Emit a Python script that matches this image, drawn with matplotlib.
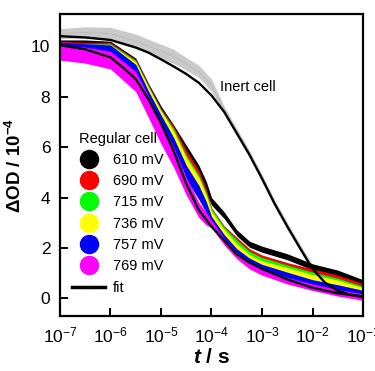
import numpy as np
import matplotlib
matplotlib.use('Agg')
import matplotlib.pyplot as plt
from matplotlib.lines import Line2D

plt.rcParams['font.family'] = ['Liberation Sans', 'DejaVu Sans']
plt.rcParams['mathtext.fontset'] = 'custom'
plt.rcParams['mathtext.rm'] = 'Liberation Sans'
plt.rcParams['mathtext.it'] = 'Liberation Sans:italic'
plt.rcParams['mathtext.bf'] = 'Liberation Sans:bold'
plt.rcParams['mathtext.bfit'] = 'Liberation Sans:italic:bold'

# ---------------- data (log10 of time in s, dOD in 1e-4) ----------------
reg_logt = [-7, -6.5, -6, -5.5, -5.25, -5, -4.75, -4.5, -4.25, -4.1, -4, -3.75,
            -3.5, -3.25, -3, -2.5, -2, -1.5, -1]
reg_labels = ['610 mV', '690 mV', '715 mV', '736 mV', '757 mV', '769 mV']
reg_colors = ['#000000', '#ff0000', '#00ff00', '#ffff00', '#0000ff', '#ff00ff']
reg_610 = [10.0, 10.0, 9.95, 9.25, 8.25, 7.35, 6.6, 5.8, 5.0, 4.4, 3.85, 3.3,
           2.6, 2.15, 1.95, 1.65, 1.25, 1.0, 0.62]
reg_690 = [9.95, 9.9, 9.9, 9.2, 8.2, 7.25, 6.55, 5.6, 4.8, 4.1, 3.45, 2.75,
           2.3, 1.85, 1.6, 1.3, 1.05, 0.8, 0.47]
reg_715 = [9.85, 9.85, 9.85, 9.15, 8.15, 7.2, 6.45, 5.4, 4.6, 3.95, 3.4, 2.7,
           2.2, 1.75, 1.5, 1.2, 0.92, 0.68, 0.36]
reg_736 = [9.7, 9.75, 9.8, 9.1, 8.1, 7.15, 6.35, 5.3, 4.5, 3.85, 3.3, 2.6,
           2.05, 1.62, 1.37, 1.1, 0.82, 0.6, 0.3]
reg_757 = [9.9, 9.85, 9.8, 9.0, 7.95, 7.0, 6.1, 5.0, 4.2, 3.6, 3.1, 2.4,
           1.85, 1.48, 1.23, 0.92, 0.62, 0.42, 0.2]
reg_769 = [9.75, 9.65, 9.45, 8.6, 7.6, 6.55, 5.6, 4.45, 3.5, 3.15, 2.95, 2.25,
           1.7, 1.3, 1.05, 0.7, 0.44, 0.22, 0.05]
reg_noise = [0.25, 0.25, 0.25, 0.28, 0.28, 0.28, 0.28, 0.28, 0.28, 0.22, 0.15, 0.13,
             0.12, 0.12, 0.12, 0.12, 0.12, 0.12, 0.12]
mag_noise = [0.3, 0.32, 0.35, 0.4, 0.42, 0.42, 0.4, 0.35, 0.3, 0.25, 0.15, 0.13,
             0.13, 0.13, 0.13, 0.13, 0.13, 0.13, 0.13]

fit_logt = [-7, -6.5, -6, -5.75, -5.5, -5.25, -5, -4.75, -4.5, -4.25, -4, -3.75,
            -3.5, -3.25, -3, -2.5, -2, -1.5, -1]
fit_reg = [10.04, 9.88, 9.56, 9.15, 8.7, 7.9, 6.95, 5.85, 4.55, 3.5, 2.85, 2.3,
           1.75, 1.42, 1.17, 0.75, 0.42, 0.2, 0.08]

inert_logt = [-7, -6.5, -6, -5.5, -5.25, -5, -4.75, -4.5, -4.25, -4, -3.75, -3.5,
              -3.25, -3, -2.75, -2.5, -2.25, -2, -1.75, -1.5, -1.25, -1]
inert_data = [10.5, 10.55, 10.5, 10.2, 10.0, 9.8, 9.6, 9.3, 9.0, 8.45, 7.5, 6.65,
              5.78, 4.82, 3.82, 2.92, 2.07, 1.25, 0.7, 0.38, 0.26, 0.2]
inert_noise = [0.2, 0.22, 0.25, 0.28, 0.28, 0.28, 0.28, 0.25, 0.25, 0.25, 0.12, 0.09,
               0.09, 0.09, 0.09, 0.09, 0.09, 0.09, 0.09, 0.08, 0.08, 0.08]
inert_fit = [10.4, 10.35, 10.25, 9.95, 9.75, 9.48, 9.2, 8.9, 8.55, 8.05, 7.4, 6.55,
             5.7, 4.75, 3.75, 2.85, 2.0, 1.17, 0.62, 0.3, 0.14, 0.05]

x_ticks_exp = [-7, -6, -5, -4, -3, -2, -1]
y_ticks = [0, 2, 4, 6, 8, 10]

# ---------------- figure ----------------
fig = plt.figure(figsize=(3.75, 3.71), dpi=100)
ax = fig.add_axes([60/375, 1-316/371, 303/375, 302/371])
ax.set_xscale('log')

t_in = 10.0 ** np.array(inert_logt)
yi = np.array(inert_data); ni = np.array(inert_noise)
ax.fill_between(t_in, yi - ni, yi + ni, color='#cacaca', lw=0)
ax.plot(t_in, yi, color='#bdbdbd', lw=0.8)
ax.plot(t_in, inert_fit, color='black', lw=1.7, zorder=5)

t_reg = 10.0 ** np.array(reg_logt)
series = [reg_610, reg_690, reg_715, reg_736, reg_757, reg_769]
for i, (vals, col) in enumerate(zip(series, reg_colors)):
    v = np.array(vals)
    n = np.array(mag_noise if i == 5 else reg_noise)
    ax.fill_between(t_reg, v - n, v + n, color=col, lw=0, zorder=2 + i * 0.1)
    ax.plot(t_reg, v, color=col, lw=1, zorder=2 + i * 0.1)

ax.plot(10.0 ** np.array(fit_logt), fit_reg, color='black', lw=1.7, zorder=5)

ax.text(10 ** -3.83, 8.4, 'Inert cell', fontsize=10.5, ha='left', va='center')

ax.set_xlim(1e-7, 1e-1)
ax.set_ylim(-0.7, 11.28)
ax.set_xticks([10.0 ** e for e in x_ticks_exp])
ax.set_xticklabels([r'10$^{%d}$' % e for e in x_ticks_exp])
ax.xaxis.set_minor_locator(matplotlib.ticker.NullLocator())
ax.set_yticks(y_ticks)
ax.tick_params(direction='in', length=6, width=1.4, labelsize=12.5)
ax.tick_params(axis='y', pad=7)
ax.tick_params(axis='x', pad=7)
for s in ax.spines.values():
    s.set_linewidth(1.6)

ax.set_ylabel(r'$\mathbf{\Delta OD\ /\ 10^{-4}}$', fontsize=13.5, labelpad=4)
ax.set_xlabel(r'$\mathbfit{t}\ \mathbf{/\ s}$', fontsize=15, labelpad=2)

handles = [Line2D([], [], ls='none', marker='o', markersize=13, color=c) for c in reg_colors]
handles.append(Line2D([], [], color='black', lw=2.5))
leg = ax.legend(handles, reg_labels + ['fit'], title='Regular cell', frameon=False,
                loc='upper left', bbox_to_anchor=(0.02, 0.63), borderaxespad=0,
                fontsize=10.5, title_fontsize=10.5, handlelength=2.3,
                handletextpad=0.5, labelspacing=0.5)
leg.set_zorder(10)

fig.savefig('out.png', dpi=100)
